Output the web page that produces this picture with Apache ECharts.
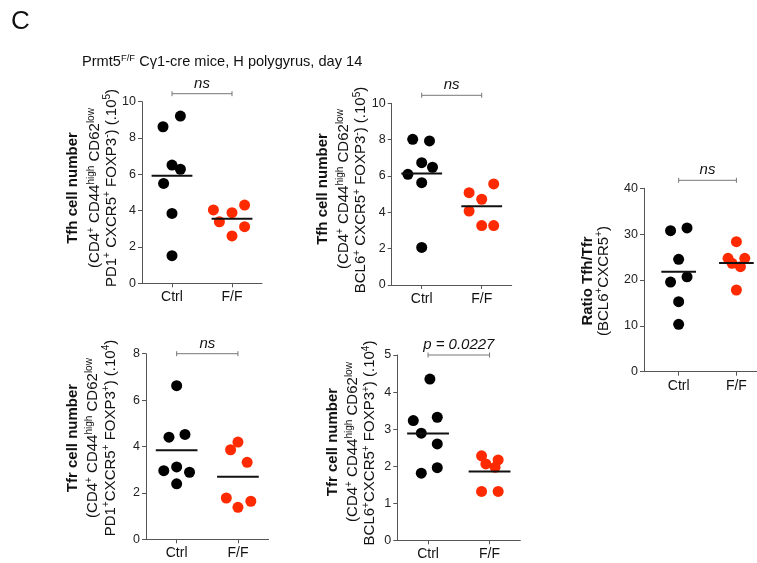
<!DOCTYPE html>
<html>
<head>
<meta charset="utf-8">
<script src="https://cdn.jsdelivr.net/npm/echarts@6/dist/echarts.min.js"></script>
<style>html,body{margin:0;padding:0;background:#fff}#c{width:757px;height:563px}</style>
</head>
<body>
<div id="c"></div>
<script>
// ---- data ----
const categories = ['Ctrl', 'F/F'];

// Panel 1: Tfh (PD1+ CXCR5+ FOXP3-) x10^5
const p1Ctrl = [8.62, 9.21, 6.51, 6.28, 5.50, 3.85, 1.52];
const p1FF   = [4.04, 3.89, 4.31, 3.39, 3.12, 2.61];
// Panel 2: Tfh (BCL6+ CXCR5+ FOXP3-) x10^5
const p2Ctrl = [8.02, 7.93, 6.73, 6.48, 6.09, 5.63, 2.07];
const p2FF   = [5.08, 5.56, 4.72, 4.07, 3.27, 3.27];
// Panel 3: Ratio Tfh/Tfr
const p3Ctrl = [30.76, 31.35, 24.5, 20.7, 19.56, 15.27, 10.33];
const p3FF   = [28.35, 24.73, 24.73, 23.64, 22.9, 17.82];
// Panel 4: Tfr (PD1+CXCR5+ FOXP3+) x10^4
const p4Ctrl = [6.62, 4.40, 4.52, 2.96, 3.12, 2.89, 2.39];
const p4FF   = [3.86, 4.19, 3.32, 1.78, 1.38, 1.64];
// Panel 5: Tfr (BCL6+CXCR5+ FOXP3+) x10^4
const p5Ctrl = [4.35, 3.23, 3.32, 2.89, 2.60, 1.81, 1.96];
const p5FF   = [2.28, 2.17, 2.06, 1.97, 1.32, 1.32];

const yTicks1 = [0, 10, 2];
const yTicks3 = [0, 40, 10];
const yTicks4 = [0, 8, 2];
const yTicks5 = [0, 5, 1];

const sigLabels = ['ns', 'ns', 'ns', 'ns', 'p = 0.0227'];

// ---- layout (scatter jitter, in category units) ----
const j1C = [-0.15, 0.14, 0, 0.14, -0.14, 0, 0];
const j1F = [-0.31, 0, 0.21, -0.21, 0.21, 0];
const j2C = [-0.15, 0.13, 0, 0.18, -0.23, 0, 0];
const j2F = [-0.21, 0.2, 0, -0.21, 0, 0.2];
const j3C = [-0.14, 0.145, 0, 0.145, -0.14, 0, 0];
const j3F = [0, -0.145, 0.145, -0.075, 0.07, 0];
const j4C = [0, -0.125, 0.136, -0.21, 0, 0.21, 0];
const j4F = [-0.12, 0, 0.15, -0.19, 0, 0.21];
const j5C = [0.03, -0.24, 0.15, -0.11, 0.15, -0.11, 0.15];
const j5F = [-0.13, 0.14, -0.06, 0.09, -0.13, 0.14];

const FONT = '"Liberation Sans", Arial, Helvetica, sans-serif';
const RED = '#ff2a00';

const panels = [
  { ctrl: p1Ctrl, ff: p1FF, jc: j1C, jf: j1F, yt: yTicks1, sig: sigLabels[0],
    grid: { left: 142, top: 101.7, width: 120, height: 181.6 }, xr: [0.5, 2.5], half: 0.34, bOff: 8,
    title: [[73, 188, '{b|Tfh cell number}'],
            [95, 188, 'CD'],
            [111.7, 188, 'PD1']] },
  { ctrl: p2Ctrl, ff: p2FF, jc: j2C, jf: j2F, yt: yTicks1, sig: sigLabels[1],
    grid: { left: 391.7, top: 103.3, width: 120, height: 181.7 }, xr: [0.5, 2.5], half: 0.34, bOff: 8,
    title: [[323, 189, '{b|Tfh cell number}'],
            [344, 189, 'CD'],
            [361, 190, 'BCL6a']] },
  { ctrl: p3Ctrl, ff: p3FF, jc: j3C, jf: j3F, yt: yTicks3, sig: sigLabels[2],
    grid: { left: 644, top: 188.3, width: 113.2, height: 183.4 }, xr: [0.4, 2.36], half: 0.3, bOff: 8,
    title: [[588, 281, '{b|Ratio Tfh/Tfr}'],
            [603.5, 281, 'RATIO']] },
  { ctrl: p4Ctrl, ff: p4FF, jc: j4C, jf: j4F, yt: yTicks4, sig: sigLabels[3],
    grid: { left: 146, top: 353.7, width: 122.6, height: 185.6 }, xr: [0.5, 2.5], half: 0.34, bOff: 0,
    title: [[73, 438, '{b|Tfr cell number}'],
            [93, 438, 'CD'],
            [110.7, 438, 'PD1b']] },
  { ctrl: p5Ctrl, ff: p5FF, jc: j5C, jf: j5F, yt: yTicks5, sig: sigLabels[4],
    grid: { left: 397.3, top: 355, width: 123, height: 185.3 }, xr: [0.5, 2.5], half: 0.34, bOff: 0,
    title: [[332.7, 442, '{b|Tfr cell number}'],
            [353, 442, 'CD'],
            [370, 443, 'BCL6b']] }
];

const lineTexts = {
  'CD':    '{n|(CD4}{s|+}{n| CD44}{s|high}{n| CD62}{s|low}',
  'PD1':   '{n|PD1}{s|+}{n| CXCR5}{s|+}{n| FOXP3}{s|-}{n|) (.10}{s|5}{n|)}',
  'BCL6a': '{n|BCL6}{s|+}{n| CXCR5}{s|+}{n| FOXP3}{s|-}{n|) (.10}{s|5}{n|)}',
  'RATIO': '{n|(BCL6}{s|+}{n|CXCR5}{s|+}{n|)}',
  'PD1b':  '{n|PD1}{s|+}{n|CXCR5}{s|+}{n| FOXP3}{s|+}{n|) (.10}{s|4}{n|)}',
  'BCL6b': '{n|BCL6}{s|+}{n|CXCR5}{s|+}{n| FOXP3}{s|+}{n|) (.10}{s|4}{n|)}'
};

const rich = {
  b: { fontFamily: FONT, fontSize: 15, fontWeight: 'bold', fill: '#111', color: '#111', lineHeight: 18 },
  n: { fontFamily: FONT, fontSize: 15, fill: '#111', color: '#111', lineHeight: 18 },
  s: { fontFamily: FONT, fontSize: 10, fill: '#111', color: '#111', verticalAlign: 'top', lineHeight: 10 }
};
const titleRich = {
  n: { fontFamily: FONT, fontSize: 14.6, fill: '#111', color: '#111', lineHeight: 18 },
  s: { fontFamily: FONT, fontSize: 9.5, fill: '#111', color: '#111', verticalAlign: 'top', lineHeight: 10 }
};

const mean = a => a.reduce((s, v) => s + v, 0) / a.length;

const grids = [], xAxes = [], yAxes = [], series = [], graphics = [];

panels.forEach((p, i) => {
  grids.push(Object.assign({ outerBoundsMode: 'none', containLabel: false }, p.grid));
  xAxes.push({
    type: 'value', gridIndex: i, min: p.xr[0], max: p.xr[1],
    splitLine: { show: false },
    axisLine: { show: true, lineStyle: { color: '#555', width: 1 } },
    axisTick: { show: true, length: 4, lineStyle: { color: '#555' }, customValues: [1, 2] },
    axisLabel: { customValues: [1, 2], margin: 7, fontSize: 14, color: '#111', fontFamily: FONT,
                 formatter: v => categories[Math.round(v) - 1] || '' }
  });
  yAxes.push({
    type: 'value', gridIndex: i, min: p.yt[0], max: p.yt[1], interval: p.yt[2],
    splitLine: { show: false },
    axisLine: { show: true, lineStyle: { color: '#555', width: 1 } },
    axisTick: { show: true, length: 4, lineStyle: { color: '#555' } },
    axisLabel: { margin: 6, fontSize: 12.5, color: '#222', fontFamily: FONT }
  });
  const mC = mean(p.ctrl), mF = mean(p.ff);
  series.push({
    type: 'scatter', xAxisIndex: i, yAxisIndex: i, symbolSize: 11, z: 2,
    itemStyle: { color: '#000', opacity: 1 },
    data: p.ctrl.map((v, k) => [1 + p.jc[k], v])
  });
  series.push({
    type: 'scatter', xAxisIndex: i, yAxisIndex: i, symbolSize: 11, z: 2,
    itemStyle: { color: RED, opacity: 1 },
    data: p.ff.map((v, k) => [2 + p.jf[k], v])
  });
  [[1, mC], [2, mF]].forEach(([c, m]) => {
    series.push({
      type: 'line', xAxisIndex: i, yAxisIndex: i, symbol: 'none', z: 3, silent: true,
      lineStyle: { color: '#111', width: 2 },
      data: [[c - p.half, m], [c + p.half, m]]
    });
  });
  const yTop = p.yt[1], off = p.bOff, sig = p.sig;
  series.push({
    type: 'custom', xAxisIndex: i, yAxisIndex: i, clip: false, z: 4, silent: true,
    data: [[1, yTop]],
    renderItem: (params, api) => {
      const a = api.coord([1, yTop]);
      const b = api.coord([2, yTop]);
      const y = a[1] - off;
      const stroke = { stroke: '#777', lineWidth: 1 };
      return {
        type: 'group',
        children: [
          { type: 'line', shape: { x1: a[0], y1: y, x2: b[0], y2: y }, style: stroke },
          { type: 'line', shape: { x1: a[0], y1: y - 2.5, x2: a[0], y2: y + 2.5 }, style: stroke },
          { type: 'line', shape: { x1: b[0], y1: y - 2.5, x2: b[0], y2: y + 2.5 }, style: stroke },
          { type: 'text', style: { text: sig, x: (a[0] + b[0]) / 2, y: y - 10,
              align: 'center', verticalAlign: 'middle',
              font: 'italic 15px ' + FONT, fill: '#111' } }
        ]
      };
    }
  });
  p.title.forEach(([x, y, key]) => {
    const txt = lineTexts[key] || key;
    graphics.push({
      type: 'text', x: x, y: y, rotation: Math.PI / 2, silent: true,
      style: { text: txt, rich: rich, align: 'center', verticalAlign: 'middle',
               textAlign: 'center', textVerticalAlign: 'middle', fill: '#111' }
    });
  });
});

graphics.push({
  type: 'text', x: 11, y: 22, silent: true,
  style: { text: 'C', font: '26px ' + FONT, fill: '#111', verticalAlign: 'middle', textVerticalAlign: 'middle' }
});
graphics.push({
  type: 'text', x: 82, y: 62, silent: true,
  style: { text: '{n|Prmt5}{s|F/F}{n| Cγ1-cre mice, H polygyrus, day 14}', rich: titleRich,
           verticalAlign: 'middle', textVerticalAlign: 'middle', fill: '#111' }
});

const chart = echarts.init(document.getElementById('c'), null, { renderer: 'canvas' });
chart.setOption({
  animation: false,
  backgroundColor: '#fff',
  grid: grids, xAxis: xAxes, yAxis: yAxes, series: series,
  graphic: graphics
});
</script>
</body>
</html>
